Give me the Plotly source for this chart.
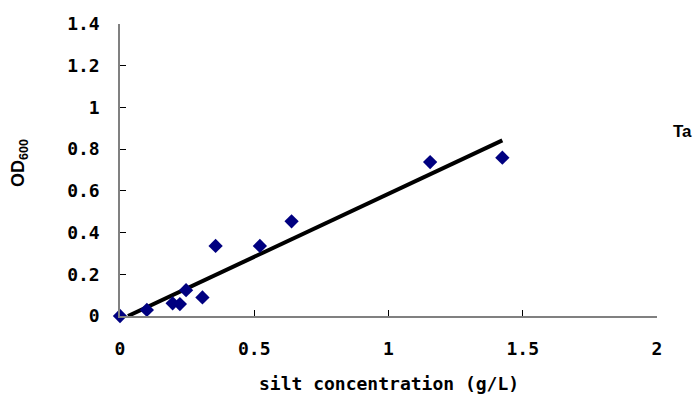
import plotly.graph_objects as go

# Data
silt_conc = [0.0, 0.10, 0.196, 0.223, 0.246, 0.307, 0.356, 0.521, 0.639, 1.155, 1.424]
od600 = [0.0, 0.029, 0.061, 0.057, 0.124, 0.089, 0.336, 0.336, 0.454, 0.738, 0.759]

# Linear trendline parameters (estimated)
fit_slope = 0.604
fit_intercept = -0.018

x_ticks = [0, 0.5, 1, 1.5, 2]
y_ticks = [0, 0.2, 0.4, 0.6, 0.8, 1, 1.2, 1.4]

x_start = -fit_intercept / fit_slope
x_end = max(silt_conc)
trend_x = [x_start, x_end]
trend_y = [fit_slope * v + fit_intercept for v in trend_x]

MONO = "DejaVu Sans Mono"
SANS = "Liberation Sans"

fig = go.Figure()
fig.add_trace(go.Scatter(
    x=trend_x, y=trend_y, mode="lines",
    line=dict(color="black", width=4), showlegend=False, hoverinfo="skip",
))
fig.add_trace(go.Scatter(
    x=silt_conc, y=od600, mode="markers",
    marker=dict(symbol="diamond", size=11, color="#000080"),
    cliponaxis=False, showlegend=False,
))

axis_common = dict(
    showgrid=False, zeroline=False, showline=True, linecolor="#808080", linewidth=1.5,
    ticks="inside", ticklen=6, tickcolor="black", tickwidth=1,
    tickfont=dict(family=MONO, size=18, color="black", weight="bold"),
)

fig.update_xaxes(range=[0, 2], tickvals=x_ticks, ticklabelstandoff=16, **axis_common)
fig.update_yaxes(range=[0, 1.4], tickvals=y_ticks, ticklabelstandoff=15, **axis_common)

fig.add_annotation(
    text="silt concentration (g/L)", xref="paper", yref="paper", x=0.5, y=0,
    yshift=-67, showarrow=False, yanchor="middle",
    font=dict(family=MONO, size=18, color="black", weight="bold"),
)
fig.add_annotation(
    text="OD<sub>600</sub>", xref="paper", yref="paper", x=0, y=0.5,
    xshift=-101, yshift=7, textangle=-90, showarrow=False, xanchor="center",
    font=dict(family=SANS, size=18, color="black", weight="bold"),
)
fig.add_annotation(
    text="Ta", xref="paper", yref="paper", x=1, y=0.5, xshift=14, yshift=39,
    showarrow=False, xanchor="left", yanchor="middle",
    font=dict(family=SANS, size=17, color="black", weight="bold"),
)

fig.update_layout(
    width=699, height=400,
    margin=dict(l=120, r=42, t=24, b=84),
    paper_bgcolor="white", plot_bgcolor="white",
)

fig.write_html("out.html", config={"displayModeBar": False},
               post_script="document.body.style.margin='0';")
